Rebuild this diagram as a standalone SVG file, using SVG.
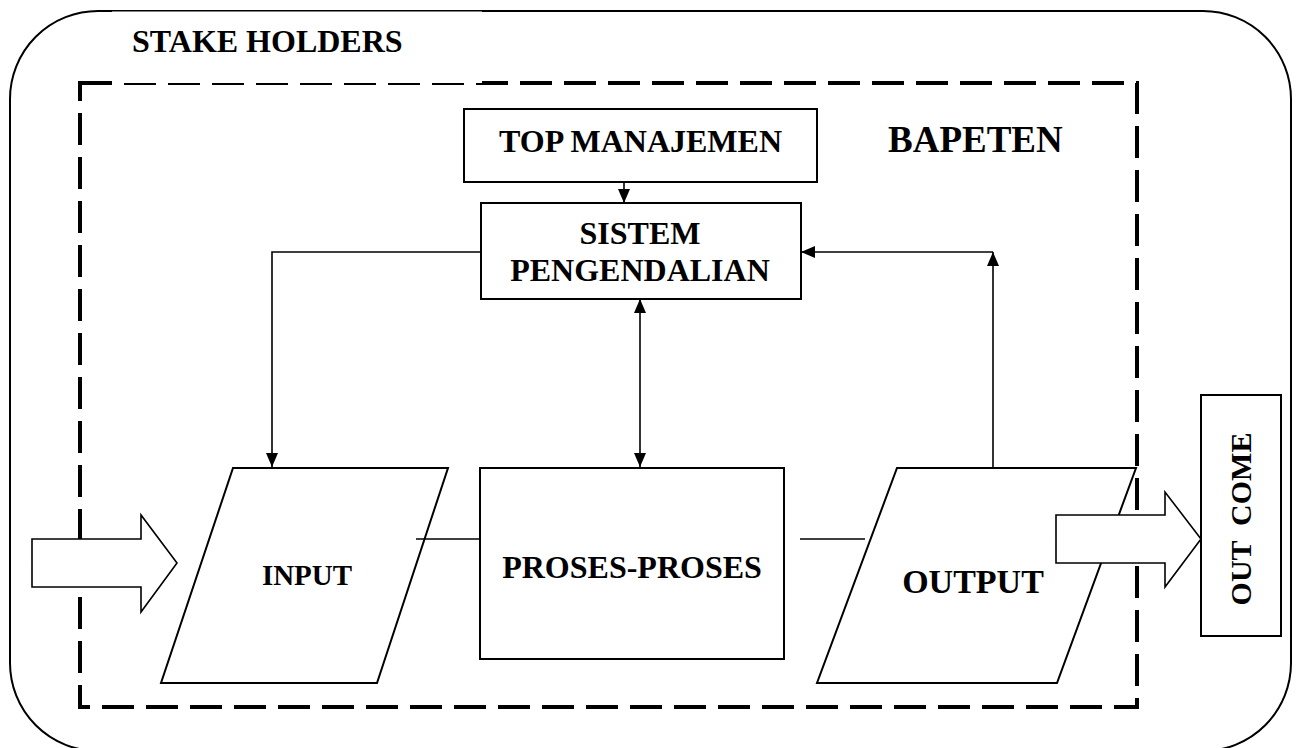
<svg xmlns="http://www.w3.org/2000/svg" width="1298" height="748" viewBox="0 0 1298 748">
<style>
text{font-family:"Liberation Serif","Times New Roman",serif;font-weight:bold;fill:#000}
.box{fill:#fff;stroke:#000;stroke-width:2}
.ln{fill:none;stroke:#000;stroke-width:1.6}
.big{fill:#fff;stroke:#000;stroke-width:1.6}
</style>
<defs>
<marker id="ah" viewBox="0 0 14 12" refX="14" refY="6" markerWidth="14" markerHeight="12" markerUnits="userSpaceOnUse" orient="auto-start-reverse">
<path d="M0,0 L14,6 L0,12 z" fill="#000"/>
</marker>
</defs>
<rect width="1298" height="748" fill="#fff"/>
<g id="stakeholders">
<rect x="10" y="11" width="1281" height="740" rx="88" ry="88" fill="none" stroke="#000" stroke-width="2"/>
</g>
<g id="bapeten">
<rect x="80" y="83" width="1057" height="624" fill="none" stroke="#000" stroke-width="4" stroke-dasharray="32 12"/>
<text x="888" y="152" font-size="37">BAPETEN</text>
</g>
<g id="stakeholders-label">
<rect x="112" y="11.5" width="370" height="71.5" fill="#fff"/>
<text x="132" y="52" font-size="32">STAKE HOLDERS</text>
</g>
<g id="top-manajemen">
<rect class="box" x="464" y="109" width="353" height="73"/>
<text x="640.5" y="152" font-size="32" text-anchor="middle">TOP MANAJEMEN</text>
</g>
<g id="sistem-pengendalian">
<rect class="box" x="481" y="203" width="320" height="96"/>
<text x="640" y="244" font-size="32" text-anchor="middle">SISTEM</text>
<text x="640" y="281" font-size="32" text-anchor="middle">PENGENDALIAN</text>
</g>
<g id="input">
<polygon class="box" points="233,468 448,468 377,683 161,683"/>
<text x="307" y="585" font-size="29" text-anchor="middle">INPUT</text>
</g>
<g id="proses">
<rect class="box" x="480" y="468" width="304" height="191"/>
<text x="632" y="578" font-size="32" text-anchor="middle">PROSES-PROSES</text>
</g>
<g id="output">
<polygon class="box" points="897,468 1136,468 1057,683 817,683"/>
<text x="973" y="593" font-size="34" text-anchor="middle">OUTPUT</text>
</g>
<g id="outcome">
<rect class="box" x="1201" y="395" width="80" height="241"/>
<text transform="translate(1251,519) rotate(-90)" font-size="30" text-anchor="middle" xml:space="preserve">OUT  COME</text>
</g>
<g id="connectors">
<path class="ln" d="M624,182 V203" marker-end="url(#ah)"/>
<path class="ln" d="M481,252 H272 V467" marker-end="url(#ah)"/>
<path class="ln" d="M640,299 V467" marker-start="url(#ah)" marker-end="url(#ah)"/>
<path class="ln" d="M993,468 V252" marker-end="url(#ah)"/>
<path class="ln" d="M993,252 H801" marker-end="url(#ah)"/>
<path class="ln" d="M416,539 H480"/>
<path class="ln" d="M800,539 H865"/>
</g>
<g id="input-arrow">
<polygon class="big" points="32,539 141,539 141,515 177,563 141,612 141,587 32,587"/>
</g>
<g id="output-arrow">
<polygon class="big" points="1056,515 1165,515 1165,492 1201,539 1165,587 1165,563 1056,563"/>
</g>
</svg>
